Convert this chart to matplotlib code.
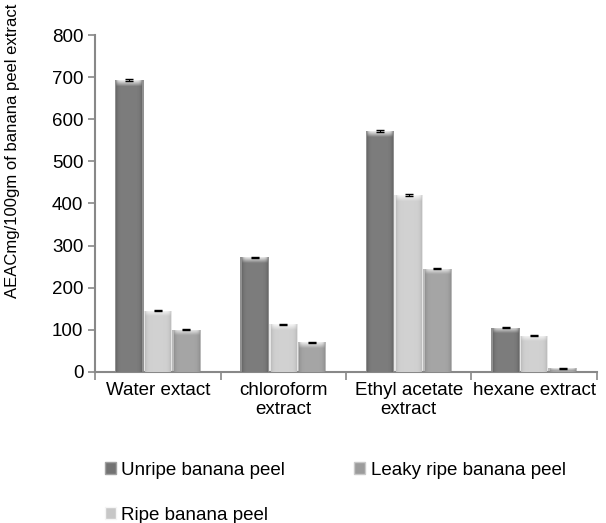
import numpy as np
import matplotlib.pyplot as plt
from matplotlib.patches import Rectangle

plt.rcParams['font.family'] = ['Liberation Sans', 'DejaVu Sans']

# --- Data ---
categories = ["Water extact", "chloroform\nextract", "Ethyl acetate\nextract", "hexane extract"]
unripe = [693, 272, 572, 105]
ripe = [145, 113, 420, 86]
leaky_ripe = [100, 70, 245, 8]

series = [
    ("Unripe banana peel", unripe, 0.45),
    ("Ripe banana peel", ripe, 0.78),
    ("Leaky ripe banana peel", leaky_ripe, 0.61),
]


def shaded_image(base, nrows, ncols, top_rows):
    # horizontal shading: slightly darker at the sides, light band at the top
    xs = np.linspace(-1, 1, ncols)
    prof = base + 0.04 - 0.08 * xs ** 6
    img = np.tile(prof, (nrows, 1))
    for i in range(top_rows):
        k = 1 - i / top_rows
        img[i] = img[i] + (1.0 - img[i]) * 0.85 * k * (1 - 0.6 * xs ** 8)
    img = np.clip(img, 0, 1)
    return np.dstack([img, img, img])


fig = plt.figure(figsize=(6.06, 5.23), dpi=100)
ax = fig.add_axes([0.157, 0.289, 0.828, 0.644])

x = np.arange(len(categories))
width = 0.228
offsets = [-width, 0, width]
hl = 14  # height of the top highlight in data units

for (name, vals, base), off in zip(series, offsets):
    for xi, v in zip(x, vals):
        x0 = xi + off - width / 2
        edge = Rectangle((x0, 0), width, v, facecolor=str(min(base + 0.12, 1.0)),
                         edgecolor='none', zorder=2)
        ax.add_patch(edge)
        nrows = 300
        top_rows = int(nrows * min(hl / v, 0.6))
        img = shaded_image(base, nrows, 40, max(top_rows, 2))
        im = ax.imshow(img, extent=(x0 + 0.012, x0 + width - 0.012, 0, v), aspect='auto',
                       interpolation='bilinear', zorder=3)
        im.set_clip_path(edge)
    ax.errorbar(x + off, vals, yerr=1.5, fmt='none', ecolor='black', elinewidth=0.8,
                capsize=3, capthick=1, zorder=4)

ax.set_xlim(-0.5, len(categories) - 0.5)
ax.set_ylim(0, 800)
ax.set_yticks(np.arange(0, 801, 100))
ax.set_xticks(x)
ax.set_xticklabels(categories, fontsize=13.5)
ax.set_xticks(np.arange(-0.5, len(categories), 1), minor=True)
ax.tick_params(axis='x', which='major', length=0, pad=7)
ax.tick_params(axis='x', which='minor', length=6, color='#888888', width=1.2)
ax.tick_params(axis='y', length=5, color='#888888', width=1.2, labelsize=13.5)

for s in ['top', 'right']:
    ax.spines[s].set_visible(False)
for s in ['left', 'bottom']:
    ax.spines[s].set_color('#888888')
    ax.spines[s].set_linewidth(1.5)

ax.set_ylabel("AEACmg/100gm of banana peel extract", fontsize=12)
ax.yaxis.set_label_coords(-0.149, 0.655)

# legend swatches
handles = [Rectangle((0, 0), 1, 1, facecolor=str(b), edgecolor=str(min(b + 0.18, 1.0)))
           for _, _, b in series]
labels = [n for n, _, _ in series]
fig.legend(handles, labels, loc='upper left', bbox_to_anchor=(0.157, 0.135), ncol=2,
           frameon=False, fontsize=13.5, handlelength=0.6, handleheight=0.6,
           handletextpad=0.3, labelspacing=1.5, columnspacing=3.65, borderpad=0)

fig.savefig("out.png", dpi=100)
